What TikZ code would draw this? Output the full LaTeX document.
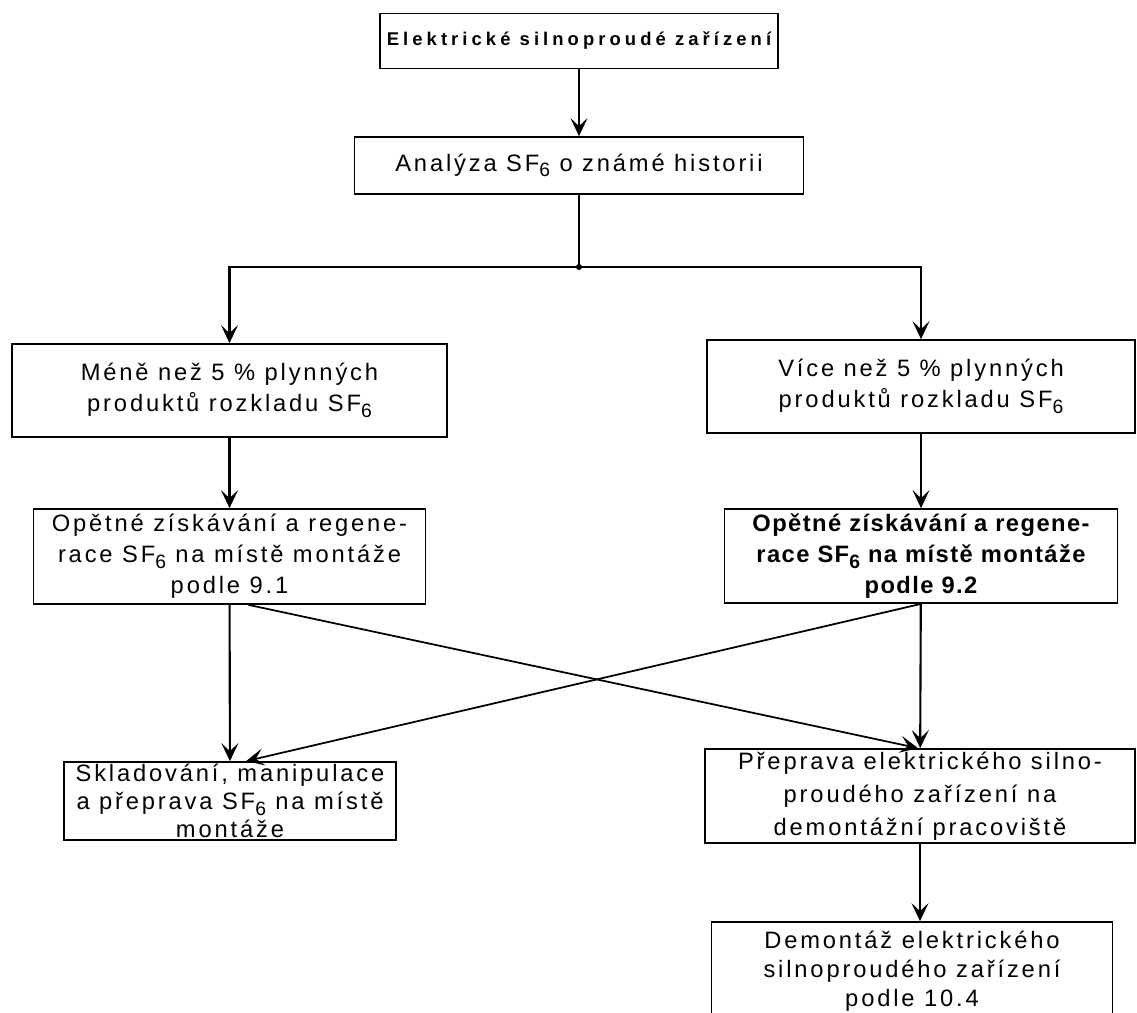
\documentclass[tikz,border=0pt]{standalone}
\usepackage{fontspec}
\setmainfont{Liberation Sans}[LetterSpace=12]
\usepackage{tikz}
\usetikzlibrary{arrows.meta}
\newcommand{\sfsix}{SF\raisebox{-0.45ex}{\fontsize{11}{11}\selectfont 6}}

\begin{document}
\begin{tikzpicture}[
    x=0.02cm, y=-0.02cm,
    flowbox/.style={rectangle, draw, line width=1pt, inner sep=0pt,
                    align=center,
                    font=\fontsize{13.5}{17.6}\selectfont},
    flowarrow/.style={line width=1.2pt,
                      -{Stealth[length=3.6mm, width=3.4mm, inset=1.6mm]}},
    crossarrow/.style={flowarrow, line width=1pt}
]
\useasboundingbox (0,0) rectangle (1137,1012);
\clip (0,0) rectangle (1137,1012);

\node[flowbox, minimum width=7.96cm, minimum height=1.10cm,
      font=\fontsize{10.5}{13}\selectfont\bfseries\addfontfeatures{LetterSpace=22}]
    (elzar) at (579,41) {Elektrické silnoproudé zařízení};
\node[flowbox, minimum width=8.98cm, minimum height=1.14cm]
    (analyza) at (579,165.5) {Analýza \sfsix{} o známé historii};
\node[flowbox, minimum width=8.70cm, minimum height=1.86cm]
    (mene) at (229.5,390.5) {Méně než 5 \% plynných\\produktů rozkladu \sfsix};
\node[flowbox, minimum width=8.56cm, minimum height=1.86cm]
    (vice) at (921,386.5) {Více než 5 \% plynných\\produktů rozkladu \sfsix};
\node[flowbox, minimum width=7.84cm, minimum height=1.90cm]
    (regen1) at (229.5,556.5) {Opětné získávání a regene-\\race \sfsix{} na místě montáže\\podle 9.1};
\node[flowbox, minimum width=7.86cm, minimum height=1.88cm,
      font=\fontsize{13.5}{17.6}\selectfont\bfseries\addfontfeatures{LetterSpace=6}]
    (regen2) at (921,556) {Opětné získávání a regene-\\race \sfsix{} na místě montáže\\podle 9.2};
\node[flowbox, minimum width=6.64cm, minimum height=1.56cm,
      font=\fontsize{13.5}{16}\selectfont]
    (sklad) at (230,801) {Skladování, manipulace\\a přeprava \sfsix{} na místě\\montáže};
\node[flowbox, minimum width=8.60cm, minimum height=1.88cm,
      font=\fontsize{13.5}{18.7}\selectfont]
    (preprava) at (920,796) {Přeprava elektrického silno-\\proudého zařízení na\\demontážní pracoviště};
\node[flowbox, minimum width=8.02cm, minimum height=1.96cm,
      font=\fontsize{13.5}{16.5}\selectfont]
    (demontaz) at (912,971) {Demontáž elektrického\\silnoproudého zařízení\\podle 10.4};

\coordinate (split) at (analyza.south |- 0,267);
\draw[flowarrow] (elzar) -- (analyza);
\draw[line width=1.2pt] (analyza) -- (split);
\fill (split) circle (3);
\draw[flowarrow] (split) -| (mene.north);
\draw[flowarrow] (split) -| (vice.north);
\draw[flowarrow] (mene) -- (regen1);
\draw[flowarrow] (vice) -- (regen2);
\draw[flowarrow] (regen1) -- (sklad);
\draw[flowarrow] (regen2) -- (preprava);
\draw[crossarrow] ([xshift=0.38cm]regen1.south) -- ([xshift=-0.04cm]preprava.north);
\draw[crossarrow] (regen2.south) -- ([xshift=0.32cm]sklad.north);
\draw[flowarrow] (preprava.south) -- (preprava.south |- demontaz.north);
\end{tikzpicture}
\end{document}
